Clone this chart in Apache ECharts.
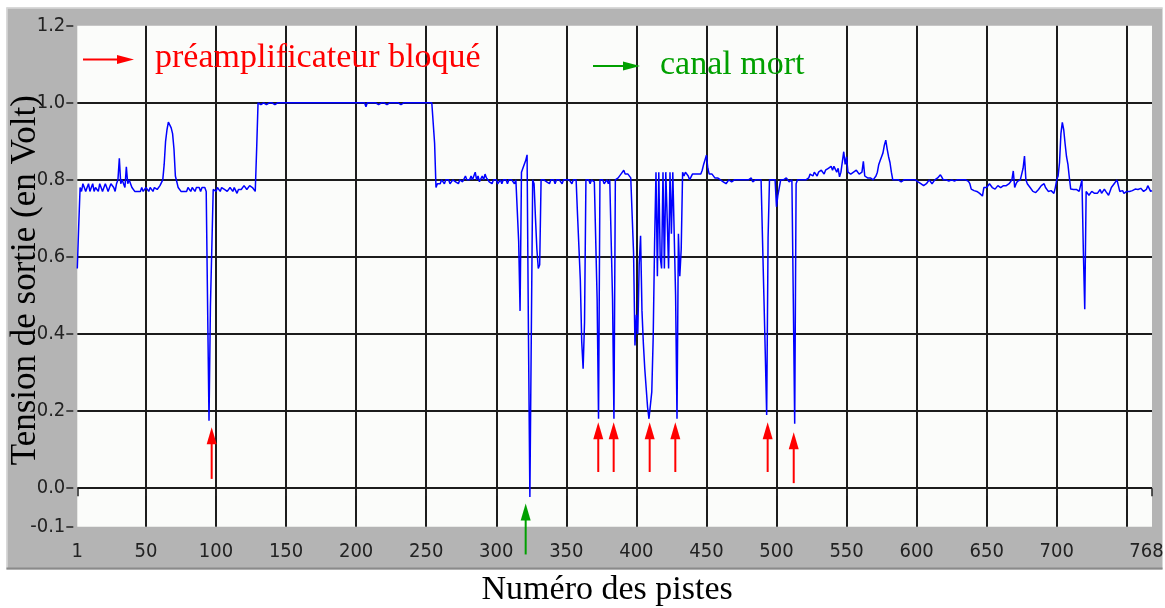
<!DOCTYPE html>
<html>
<head>
<meta charset="utf-8">
<script src="https://cdn.jsdelivr.net/npm/echarts@6/dist/echarts.min.js"></script>
<style>
html,body{margin:0;padding:0;background:#fff;}
#chart{width:1165px;height:608px;}
</style>
</head>
<body>
<div id="chart"></div>
<script>
// Output voltage per track (tracks 1..768)
const tension = [
0.57,0.68,0.78,0.77,0.79,0.78,0.77,0.78,0.79,0.77,
0.78,0.79,0.77,0.78,0.78,0.77,0.79,0.78,0.77,0.78,
0.79,0.78,0.77,0.78,0.79,0.79,0.78,0.77,0.79,0.80,
0.856,0.79,0.80,0.79,0.78,0.834,0.79,0.80,0.79,0.78,
0.78,0.77,0.775,0.77,0.765,0.77,0.78,0.77,0.775,0.78,
0.78,0.77,0.78,0.785,0.77,0.78,0.78,0.775,0.78,0.785,
0.79,0.80,0.84,0.90,0.93,0.95,0.955,0.935,0.92,0.88,
0.81,0.795,0.78,0.775,0.77,0.765,0.77,0.765,0.77,0.78,
0.775,0.77,0.78,0.775,0.77,0.78,0.775,0.78,0.77,0.78,
0.775,0.78,0.77,0.77,0.175,0.47,0.47,0.775,0.78,0.77,
0.78,0.775,0.77,0.78,0.78,0.775,0.78,0.77,0.775,0.78,
0.78,0.77,0.78,0.775,0.765,0.775,0.78,0.775,0.78,0.785,
0.78,0.775,0.78,0.785,0.78,0.78,0.775,0.77,0.88,1.0,
1.0,0.995,1.0,1.0,1.0,0.995,1.0,1.0,1.0,1.0,
1.0,0.995,1.0,1.0,1.0,1.0,0.995,1.0,1.0,1.0,
1.0,1.0,0.995,1.0,1.0,1.0,1.0,1.0,0.995,1.0,
1.0,1.0,1.0,1.0,0.995,1.0,1.0,1.0,1.0,1.0,
1.0,1.0,1.0,1.0,1.0,1.0,1.0,1.0,1.0,1.0,
1.0,1.0,1.0,1.0,0.995,1.0,1.0,1.0,1.0,1.0,
1.0,1.0,1.0,1.0,1.0,1.0,1.0,1.0,1.0,1.0,
1.0,1.0,1.0,1.0,1.005,1.0,0.99,1.0,1.0,1.0,
1.0,1.0,1.0,1.0,1.0,0.995,1.0,1.0,1.0,1.0,
1.0,0.995,1.0,1.0,1.0,1.0,0.995,1.0,1.0,1.0,
1.0,0.995,1.0,1.0,1.0,1.0,0.995,1.0,1.0,1.0,
0.995,1.0,1.0,1.0,0.995,1.0,1.0,1.0,1.0,1.0,
1.0,1.0,1.0,1.0,1.0,0.895,0.78,0.79,0.795,0.79,
0.80,0.795,0.79,0.80,0.795,0.80,0.79,0.795,0.80,0.80,
0.795,0.80,0.79,0.80,0.805,0.795,0.80,0.81,0.80,0.795,
0.80,0.81,0.80,0.805,0.82,0.80,0.81,0.795,0.80,0.81,
0.80,0.815,0.805,0.80,0.795,0.80,0.79,0.80,0.795,0.80,
0.79,0.795,0.80,0.79,0.80,0.795,0.80,0.79,0.80,0.795,
0.80,0.80,0.79,0.80,0.795,0.64,0.46,0.82,0.83,0.835,
0.85,0.865,0.39,-0.023,0.39,0.80,0.79,0.70,0.62,0.57,
0.58,0.80,0.795,0.80,0.80,0.795,0.80,0.79,0.80,0.795,
0.80,0.79,0.80,0.795,0.80,0.80,0.79,0.80,0.795,0.80,
0.795,0.80,0.80,0.79,0.80,0.795,0.80,0.71,0.71,0.54,
0.38,0.31,0.43,0.80,0.795,0.80,0.79,0.80,0.80,0.795,
0.80,0.49,0.18,0.80,0.795,0.80,0.79,0.785,0.80,0.79,
0.80,0.795,0.49,0.18,0.80,0.80,0.805,0.81,0.815,0.82,
0.825,0.815,0.81,0.815,0.81,0.805,0.80,0.61,0.37,0.45,
0.40,0.58,0.655,0.46,0.375,0.31,0.26,0.21,0.18,0.18,
0.25,0.39,0.635,0.82,0.55,0.82,0.60,0.57,0.82,0.57,
0.82,0.70,0.57,0.82,0.66,0.82,0.82,0.50,0.18,0.66,
0.55,0.62,0.82,0.81,0.82,0.815,0.81,0.80,0.805,0.815,
0.82,0.815,0.81,0.815,0.82,0.815,0.825,0.84,0.845,0.864,
0.83,0.815,0.81,0.815,0.81,0.805,0.81,0.805,0.80,0.80,
0.80,0.795,0.80,0.79,0.795,0.80,0.80,0.795,0.80,0.80,
0.795,0.80,0.80,0.80,0.795,0.80,0.805,0.80,0.795,0.80,
0.80,0.805,0.795,0.80,0.80,0.805,0.80,0.795,0.80,0.80,
0.50,0.35,0.19,0.65,0.80,0.795,0.80,0.80,0.80,0.73,
0.76,0.78,0.80,0.795,0.80,0.80,0.805,0.80,0.795,0.80,
0.80,0.49,0.167,0.79,0.80,0.795,0.80,0.80,0.80,0.805,
0.80,0.80,0.805,0.815,0.815,0.81,0.82,0.815,0.81,0.82,
0.815,0.825,0.82,0.815,0.825,0.82,0.83,0.825,0.835,0.825,
0.835,0.83,0.82,0.83,0.808,0.82,0.847,0.873,0.84,0.86,
0.82,0.82,0.815,0.815,0.82,0.825,0.825,0.82,0.815,0.82,
0.82,0.848,0.81,0.81,0.805,0.81,0.805,0.81,0.80,0.805,
0.81,0.82,0.84,0.85,0.86,0.87,0.89,0.903,0.88,0.86,
0.845,0.82,0.80,0.795,0.80,0.796,0.80,0.80,0.795,0.792,
0.80,0.80,0.80,0.804,0.80,0.797,0.80,0.797,0.80,0.80,
0.795,0.792,0.79,0.787,0.785,0.79,0.79,0.795,0.80,0.795,
0.79,0.79,0.80,0.80,0.805,0.81,0.813,0.807,0.80,0.80,
0.80,0.80,0.797,0.80,0.80,0.80,0.797,0.80,0.80,0.80,
0.80,0.80,0.80,0.80,0.80,0.80,0.796,0.79,0.776,0.78,
0.772,0.774,0.77,0.767,0.765,0.761,0.758,0.78,0.785,0.78,
0.785,0.79,0.785,0.78,0.776,0.776,0.78,0.785,0.78,0.78,
0.785,0.785,0.78,0.785,0.79,0.79,0.787,0.80,0.823,0.78,
0.79,0.796,0.80,0.80,0.815,0.83,0.862,0.80,0.79,0.79,
0.78,0.775,0.77,0.772,0.767,0.767,0.775,0.78,0.785,0.785,
0.79,0.78,0.775,0.77,0.77,0.772,0.767,0.765,0.78,0.80,
0.81,0.845,0.92,0.949,0.93,0.893,0.86,0.84,0.806,0.776,
0.776,0.775,0.772,0.775,0.775,0.77,0.775,0.80,0.616,0.464,
0.77,0.775,0.76,0.758,0.77,0.77,0.765,0.76,0.765,0.77,
0.775,0.765,0.768,0.776,0.77,0.765,0.76,0.77,0.78,0.785,
0.79,0.793,0.80,0.785,0.77,0.768,0.772,0.765,0.765,0.77,
0.775,0.77,0.768,0.772,0.776,0.776,0.78,0.775,0.78,0.778,
0.775,0.77,0.77,0.775,0.785,0.78,0.77,0.772
];

// Axis ticks and labels
const xTickValues = [1,50,100,150,200,250,300,350,400,450,500,550,600,650,700,750,768];
const xLabelValues = [1,50,100,150,200,250,300,350,400,450,500,550,600,650,700,768];
const yTickValues = [-0.1,0,0.2,0.4,0.6,0.8,1.0,1.2];

// Texts
const xTitle = 'Numéro des pistes';
const yTitle = 'Tension de sortie (en Volt)';
const redLabel = 'préamplificateur bloqué';
const greenLabel = 'canal mort';

// Arrows pointing at tracks: track, tail value, tip value
const redArrowTracks = [96.9, 372.8, 383.8, 409.5, 427.8, 493.7, 512.3];
const redArrowTails  = [0.024, 0.042, 0.042, 0.042, 0.042, 0.042, 0.013];
const redArrowTips   = [0.158, 0.171, 0.171, 0.171, 0.171, 0.171, 0.145];
const greenArrowTracks = [321.0];
const greenArrowTails  = [-0.172];
const greenArrowTips   = [-0.040];

const RED = '#ff0000';
const GREEN = '#00a000';
const SERIF = "'Liberation Serif','Times New Roman',serif";
const NARROW = "'Liberation Sans Narrow','Arial Narrow','DejaVu Sans Condensed',sans-serif";

const seriesData = tension.map((v, i) => [i + 1, v]);
const lastX = xLabelValues[xLabelValues.length - 1];

const chart = echarts.init(document.getElementById('chart'), null, {renderer: 'canvas'});

function hArrow(id, x1, x2, y, color) {
  return [
    {type: 'line', id: id + '_l', z: 20, shape: {x1: x1, y1: y, x2: x2 - 14, y2: y}, style: {stroke: color, lineWidth: 2}},
    {type: 'polygon', id: id + '_h', z: 20, shape: {points: [[x2, y], [x2 - 17, y - 4.5], [x2 - 17, y + 4.5]]}, style: {fill: color}}
  ];
}

const staticGraphics = [
  {type: 'rect', id: 'panel', z: -10, shape: {x: 6.5, y: 7.5, width: 1156, height: 562}, style: {fill: '#b4b4b4'}},
  {type: 'line', id: 'panelTop', z: -9, shape: {x1: 6.5, y1: 8, x2: 1162.5, y2: 8}, style: {stroke: '#d9d9d9', lineWidth: 1.5}},
  {type: 'line', id: 'panelLeft', z: -9, shape: {x1: 7, y1: 7.5, x2: 7, y2: 569.5}, style: {stroke: '#d9d9d9', lineWidth: 1.5}},
  {type: 'line', id: 'panelBottom', z: -9, shape: {x1: 6.5, y1: 568.5, x2: 1162.5, y2: 568.5}, style: {stroke: '#8a8a8a', lineWidth: 2}},
  ...hArrow('redKey', 83, 134, 59.5, RED),
  ...hArrow('greenKey', 593, 640, 66, GREEN),
  {type: 'text', id: 'redText', z: 20, style: {text: redLabel, x: 155, y: 58.5, fill: RED, font: "34px " + SERIF, verticalAlign: 'middle'}},
  {type: 'text', id: 'greenText', z: 20, style: {text: greenLabel, x: 660, y: 65.5, fill: GREEN, font: "34px " + SERIF, verticalAlign: 'middle'}}
];

const option = {
  animation: false,
  backgroundColor: '#ffffff',
  grid: {left: 77.3, right: 13, top: 25.7, bottom: 81.3, containLabel: false, outerBoundsMode: 'none',
         show: true, backgroundColor: '#fbfcfa', borderWidth: 0},
  xAxis: {
    type: 'value', min: 1, max: 768, offset: 5,
    name: xTitle, nameLocation: 'middle', nameGap: 41, nameMoveOverlap: false,
    nameTextStyle: {fontFamily: SERIF, fontSize: 34, color: '#000', padding: [0, 15, 0, 0]},
    axisLine: {show: false},
    axisTick: {show: true, customValues: xTickValues, length: 8, lineStyle: {color: '#222', width: 1.5}},
    axisLabel: {
      customValues: xLabelValues, margin: 10, fontFamily: NARROW, fontSize: 20, color: '#222',
      formatter: v => (v === lastX ? '{last|' + v + '}' : String(v)),
      rich: {last: {fontFamily: NARROW, fontSize: 20, color: '#222', padding: [0, 11, 0, 0]}}
    },
    splitLine: {show: true, customValues: xTickValues, showMinLine: false, showMaxLine: false, lineStyle: {color: '#1c1c1c', width: 2}}
  },
  yAxis: {
    type: 'value', min: -0.1, max: 1.2, offset: 4,
    name: yTitle, nameLocation: 'middle', nameGap: 30, nameMoveOverlap: false,
    nameTextStyle: {fontFamily: SERIF, fontSize: 35, color: '#000', padding: [0, 8, 0, 0]},
    axisLine: {show: false},
    axisTick: {show: true, customValues: yTickValues, length: 7, lineStyle: {color: '#222', width: 1.5}},
    axisLabel: {customValues: yTickValues, margin: 8, fontFamily: NARROW, fontSize: 20, color: '#222', formatter: v => Number(v).toFixed(1)},
    splitLine: {show: true, customValues: yTickValues, showMinLine: false, showMaxLine: false, lineStyle: {color: '#1c1c1c', width: 2}}
  },
  graphic: {elements: staticGraphics},
  series: [{
    type: 'line', data: seriesData, symbol: 'none', showSymbol: false, clip: true, z: 5,
    lineStyle: {color: '#0000ff', width: 1.5}, itemStyle: {color: '#0000ff'}
  }]
};

chart.setOption(option);

function upArrow(id, t, tail, tip, color) {
  const pTail = chart.convertToPixel({gridIndex: 0}, [t, tail]);
  const pTip = chart.convertToPixel({gridIndex: 0}, [t, tip]);
  const x = pTail[0];
  return [
    {type: 'line', id: id + '_l', z: 20, shape: {x1: x, y1: pTail[1], x2: x, y2: pTip[1] + 14}, style: {stroke: color, lineWidth: 2}},
    {type: 'polygon', id: id + '_h', z: 20, shape: {points: [[x, pTip[1]], [x - 5, pTip[1] + 17], [x + 5, pTip[1] + 17]]}, style: {fill: color}}
  ];
}

const arrowGraphics = [];
redArrowTracks.forEach((t, i) => arrowGraphics.push(...upArrow('red' + i, t, redArrowTails[i], redArrowTips[i], RED)));
greenArrowTracks.forEach((t, i) => arrowGraphics.push(...upArrow('green' + i, t, greenArrowTails[i], greenArrowTips[i], GREEN)));

chart.setOption({graphic: {elements: staticGraphics.concat(arrowGraphics)}});
</script>
</body>
</html>
